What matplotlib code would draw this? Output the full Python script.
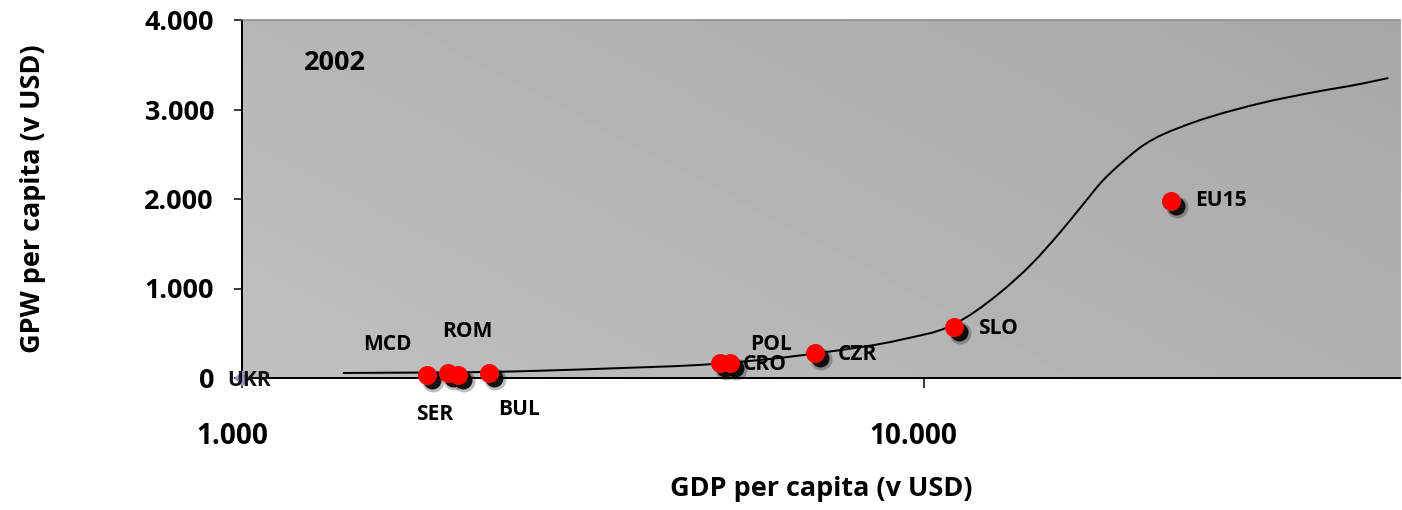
import numpy as np
import matplotlib
matplotlib.use("Agg")
import matplotlib.pyplot as plt
from matplotlib.transforms import offset_copy, ScaledTranslation
from matplotlib.ticker import FuncFormatter
from matplotlib.path import Path
from matplotlib.patches import PathPatch

plt.rcParams['font.family'] = ['Open Sans', 'DejaVu Sans']
plt.rcParams['font.weight'] = 'bold'

# country points (GDP per capita, GPW per capita)
countries = ["MCD", "ROM", "SER", "BUL", "POL", "CRO", "CZR", "SLO", "EU15"]
gdp = [1866, 2004, 2074, 2301, 5020, 5200, 6920, 11070, 23100]
gpw = [34, 56, 34, 56, 168, 168, 279, 570, 1978]
# label offsets in points (dpi 72 -> pixels)
lab_dx = [-39, 20, -23, 30, 51, 35, 43, 44, 50]
lab_dy = [30, 41, -40, -37, 18, -2, -1, -2, 0]

ukr_gdp = [1000]
ukr_gpw = [0]

# trend curve
curve_x = [1406, 2389, 3499, 4904, 7210, 9223, 11030, 12930, 14450, 15830,
           17110, 18240, 19580, 20740, 24550, 26540, 31420, 37190, 44030, 48070]
curve_y = [56, 70, 108, 156, 291, 425, 592, 950, 1285, 1620,
           1933, 2190, 2413, 2570, 2840, 2925, 3075, 3190, 3290, 3352]


def smooth_path(xs, ys):
    # cubic hermite through the points (x in log space), drawn as bezier segments
    lx = np.log10(xs)
    ys = np.asarray(ys, float)
    h = np.diff(lx)
    d = np.diff(ys) / h
    m = np.empty(len(lx))
    m[0], m[-1] = d[0], d[-1]
    m[1:-1] = (h[1:] * d[:-1] + h[:-1] * d[1:]) / (h[:-1] + h[1:])
    verts = [(xs[0], ys[0])]
    codes = [Path.MOVETO]
    for i in range(len(lx) - 1):
        c1 = (lx[i] + h[i] / 3, ys[i] + m[i] * h[i] / 3)
        c2 = (lx[i + 1] - h[i] / 3, ys[i + 1] - m[i + 1] * h[i] / 3)
        verts += [(10 ** c1[0], c1[1]), (10 ** c2[0], c2[1]), (xs[i + 1], ys[i + 1])]
        codes += [Path.CURVE4] * 3
    return Path(verts, codes)


fig = plt.figure(figsize=(1402 / 72, 510 / 72), dpi=72)
ax = fig.add_axes([242 / 1402, 1 - 378 / 510, 1158 / 1402, 358 / 510])

# gradient background
u, v = np.meshgrid(np.linspace(0, 1, 200), np.linspace(0, 1, 100))
bg = 0.75 - 0.06 * u - 0.035 * v
ax.imshow(bg, cmap='gray', vmin=0, vmax=1, origin='lower', extent=[0, 1, 0, 1],
          transform=ax.transAxes, aspect='auto', zorder=0, interpolation='bilinear')

ax.set_xscale('log')
ax.set_xlim(1000, 50000)
ax.set_ylim(0, 4000)

ax.add_patch(PathPatch(smooth_path(curve_x, curve_y), fill=False, edgecolor='black',
                       lw=2, zorder=3))

# shadows
for dx, dy, ms, a in [(6, -6, 22, 0.25), (5, -5, 18, 0.9)]:
    tr = offset_copy(ax.transData, fig=fig, x=dx, y=dy, units='points')
    ax.plot(gdp, gpw, 'o', ms=ms, color='black', alpha=a, mec='none',
            transform=tr, zorder=4, clip_on=False)
ax.plot(gdp, gpw, 'o', ms=19, color='#ff0000', mec='none', zorder=5, clip_on=False)

ax.plot(ukr_gdp, ukr_gpw, 'D', ms=12, color='#9d8fc4', mec='none', zorder=7, clip_on=False)
ax.annotate("UKR", (ukr_gdp[0], ukr_gpw[0]), xytext=(7, -2), textcoords='offset points',
            ha='center', va='center', fontsize=21, fontweight='bold', zorder=8,
            color='#111111', annotation_clip=False)

for name, x, y, dx, dy in zip(countries, gdp, gpw, lab_dx, lab_dy):
    ax.annotate(name, (x, y), xytext=(dx, dy), textcoords='offset points',
                ha='center', va='center', fontsize=21, fontweight='bold', zorder=6,
                annotation_clip=False)

ax.text(0.08, 0.88, "2002", transform=ax.transAxes, ha='center', va='center',
        fontsize=27, fontweight='bold')

# axes styling
ax.spines['right'].set_visible(False)
ax.spines['top'].set_color('#888888')
ax.spines['top'].set_linewidth(1.5)
ax.spines['left'].set_linewidth(2)
ax.spines['bottom'].set_linewidth(2)

fmt = FuncFormatter(lambda x, p: f"{int(x):,}".replace(",", "."))
ax.set_xticks([1000, 10000])
ax.xaxis.set_minor_locator(matplotlib.ticker.NullLocator())
ax.xaxis.set_major_formatter(fmt)
ax.set_yticks([0, 1000, 2000, 3000, 4000])
ax.yaxis.set_major_formatter(fmt)
ax.tick_params(axis='x', length=10, width=1.5, pad=34, labelsize=28)
ax.tick_params(axis='y', length=8, width=1.5, pad=20, labelsize=27)
shift = ScaledTranslation(-10 / 72, 0, fig.dpi_scale_trans)
for lab in ax.get_xticklabels():
    lab.set_fontweight('bold')
    lab.set_transform(lab.get_transform() + shift)
for lab in ax.get_yticklabels():
    lab.set_fontweight('bold')

ax.set_xlabel("GDP per capita (v USD)", fontsize=27, fontweight='bold')
ax.xaxis.set_label_coords(0.5, (378 - 476) / 358)
ax.set_ylabel("GPW per capita (v USD)", fontsize=27, fontweight='bold')
ax.yaxis.set_label_coords((46 - 242) / 1158, 0.5)

fig.savefig("out.png", dpi=72)
